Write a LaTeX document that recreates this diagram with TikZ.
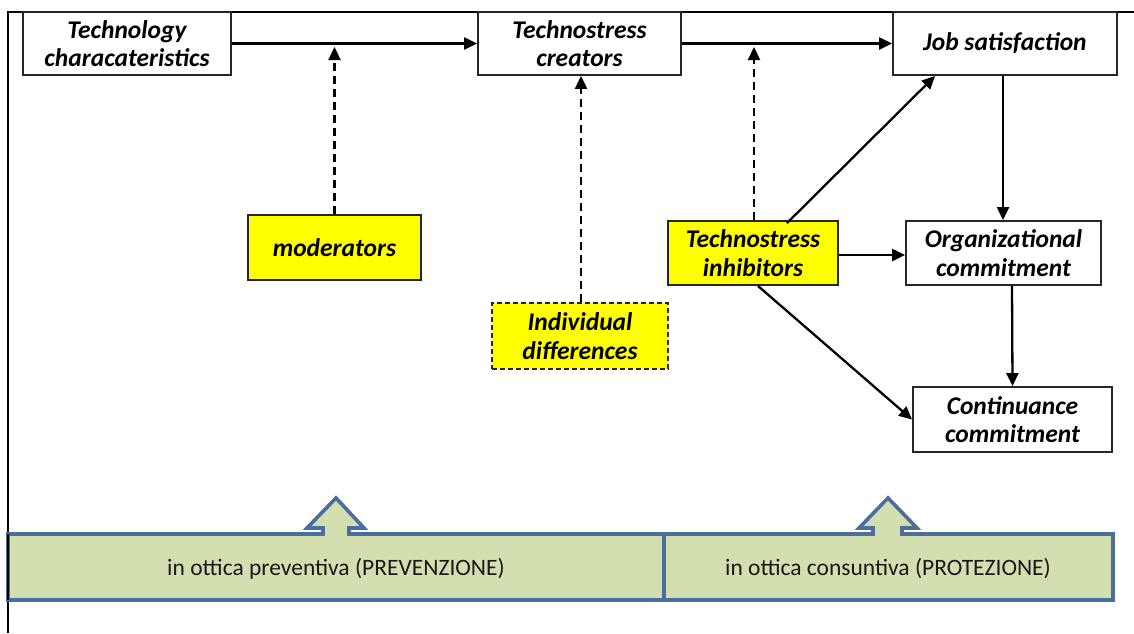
\documentclass[tikz,border=0pt]{standalone}
\usepackage{fontspec}
\setmainfont{Carlito}
\usetikzlibrary{arrows.meta}
\definecolor{boxyellow}{RGB}{255,255,0}
\definecolor{bandgreen}{RGB}{211,223,175}
\definecolor{bandblue}{RGB}{74,110,160}
\tikzset{
  x=1pt, y=-1pt,
  wbox/.style={draw=black!85, line width=1.9pt, fill=white, inner sep=2pt, align=center,
    font=\fontsize{25.5}{28.5}\selectfont\bfseries\itshape},
  ybox/.style={wbox, fill=boxyellow},
  conn/.style={line width=2.3pt, -{Triangle[length=13pt,width=12pt]}},
  dconn/.style={conn, dash pattern=on 8pt off 5pt},
  band/.style={draw=bandblue, line width=3.6pt, fill=bandgreen, line join=miter},
  bandtext/.style={font=\fontsize{23.5}{27}\selectfont, text=black!90}
}
\begin{document}
\begin{tikzpicture}
\useasboundingbox (0,0) rectangle (1134,633);
% frame
\draw[line width=2pt] (8,633) -- (8,12) -- (1134,12);
% nodes
\node[wbox, minimum width=208pt, minimum height=63pt] (tech) at (127,43.5) {Technology\\characateristics};
\node[wbox, minimum width=203pt, minimum height=63pt] (crea) at (579.5,43.5) {Technostress\\creators};
\node[wbox, minimum width=224pt, minimum height=63pt] (job) at (1005,43.5) {Job satisfaction};
\node[ybox, minimum width=173pt, minimum height=65pt] (mod) at (334.5,247.5) {moderators};
\node[ybox, dash pattern=on 5pt off 3pt, minimum width=176pt, minimum height=66pt] (ind) at (580,336) {Individual\\differences};
\node[ybox, minimum width=170pt, minimum height=64pt] (inh) at (753,253) {Technostress\\inhibitors};
\node[wbox, minimum width=195pt, minimum height=64pt] (org) at (1003.5,253) {Organizational\\commitment};
\node[wbox, minimum width=199pt, minimum height=65pt] (cont) at (1012.5,419.5) {Continuance\\commitment};
\coordinate (m1) at (334.5,47);
\coordinate (m2) at (754,47);
% connectors
\draw[conn] (tech.east) -- (crea.west);
\draw[conn] (crea.east) -- (job.west);
\draw[dconn] (mod.north) -- (m1);
\draw[dconn] ([xshift=1pt]ind.north) -- ([xshift=1.5pt]crea.south);
\draw[dconn] ([xshift=1pt]inh.north) -- (m2);
\draw[conn] ([xshift=34pt,yshift=-3pt]inh.north) -- ([xshift=-70pt]job.south);
\draw[conn] ([yshift=-2pt]inh.east) -- ([yshift=-2pt]org.west);
\draw[conn] ([xshift=5pt]inh.south) -- (cont.west);
\draw[conn] ([xshift=-2pt]job.south) -- ([xshift=-0.5pt]org.north);
\draw[conn] ([xshift=8.5pt]org.south) -- (cont.north);
% bottom band
\draw[band] (8,600) -- (8,534) -- (323,534) -- (323,528) -- (307,528) -- (336,498) -- (364,528) -- (349,528) -- (349,534) -- (664,534) -- (664,600) -- cycle;
\draw[band] (664,600) -- (664,534) -- (873,534) -- (873,528) -- (859,528) -- (888,498) -- (917,528) -- (902,528) -- (902,534) -- (1113,534) -- (1113,600) -- cycle;
\node[bandtext] (t1) at (336,569) {in ottica preventiva (PREVENZIONE)};
\node[bandtext] (t2) at (888,569) {in ottica consuntiva (PROTEZIONE)};
\draw[line width=2pt] (8,534) -- (8,600);
\end{tikzpicture}
\end{document}
